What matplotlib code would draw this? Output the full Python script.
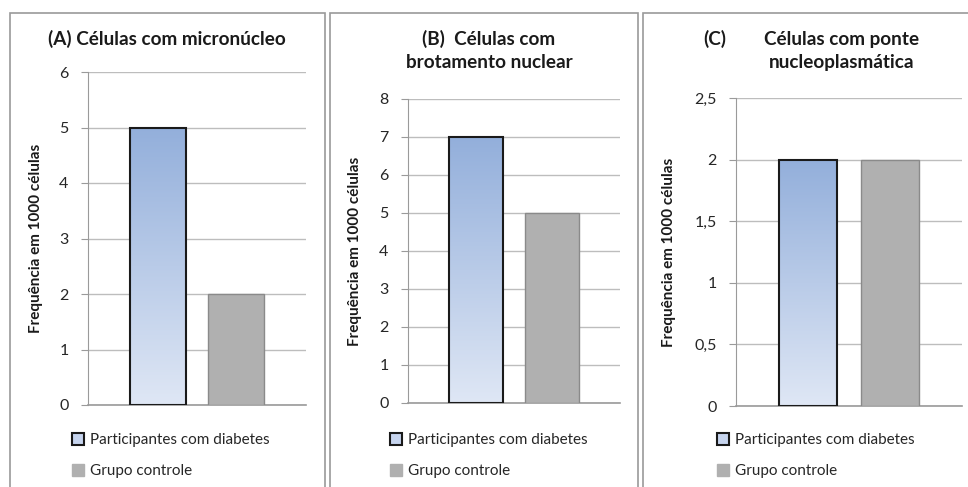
import numpy as np
import matplotlib.pyplot as plt
from matplotlib.patches import Rectangle, Patch
from matplotlib.colors import LinearSegmentedColormap

plt.rcParams['font.family'] = ['Lato', 'DejaVu Sans']

# data
groups = ["Participantes com diabetes", "Grupo controle"]
titles = ["(A) Células com micronúcleo",
          "(B)  Células com\nbrotamento nuclear",
          "Células com ponte\nnucleoplasmática"]
vals_a = [5, 2]
vals_b = [7, 5]
vals_c = [2, 2]
ylims = [6, 8, 2.5]
yticks_a = [0, 1, 2, 3, 4, 5, 6]
yticks_b = [0, 1, 2, 3, 4, 5, 6, 7, 8]
yticks_c = [0, 0.5, 1, 1.5, 2, 2.5]
ylabel = "Frequência em 1000 células"

W, H = 968, 487
fig = plt.figure(figsize=(W / 100, H / 100), dpi=100)
fig.patch.set_facecolor("white")


def px_rect(x0, x1, ytop, ybot):
    return [x0 / W, 1 - ybot / H, (x1 - x0) / W, (ybot - ytop) / H]


# panel frames
for x0, x1 in [(10, 325), (330, 638), (643, 1000)]:
    fig.patches.append(Rectangle((x0 / W, -0.1), (x1 - x0) / W, 1.1 - 13 / H,
                                 transform=fig.transFigure, fill=False,
                                 edgecolor="#9a9a9a", linewidth=1.2))

blue_cmap = LinearSegmentedColormap.from_list("bl", ["#dfe7f5", "#93afdb"])

panels = [
    (px_rect(88, 306, 72, 405), vals_a, yticks_a, ylims[0]),
    (px_rect(408, 620, 99, 403), vals_b, yticks_b, ylims[1]),
    (px_rect(736, 962, 98, 406), vals_c, yticks_c, ylims[2]),
]
label_x = [-0.206, -0.217, -0.265]
legend_x = [72, 390, 717]

for i, (rect, vals, ticks, ymax) in enumerate(panels):
    ax = fig.add_axes(rect)
    xs = [0.5 - 0.18, 0.5 + 0.18]
    bars = ax.bar(xs, vals, width=0.257, color=["none", "#b0b0b0"],
                  edgecolor=["#1a1a1a", "#8a8a8a"], linewidth=[1.5, 1.0], zorder=3)
    # gradient fill for the first bar
    b = bars[0]
    grad = np.linspace(0, 1, 256).reshape(-1, 1)
    im = ax.imshow(grad, cmap=blue_cmap, aspect="auto", origin="lower",
                   extent=[b.get_x(), b.get_x() + b.get_width(), 0, b.get_height()],
                   zorder=2)
    im.set_clip_path(b)
    ax.set_xlim(0, 1)
    ax.set_ylim(0, ymax)
    ax.set_yticks(ticks)
    ax.set_yticklabels([f"{t:g}".replace(".", ",") for t in ticks])
    ax.set_xticks([])
    ax.yaxis.grid(True, color="#bdbdbd", linewidth=1.0, zorder=0)
    ax.set_axisbelow(True)
    for s in ["top", "right"]:
        ax.spines[s].set_visible(False)
    ax.spines["left"].set_color("#9a9a9a")
    ax.spines["bottom"].set_color("#9a9a9a")
    ax.spines["bottom"].set_linewidth(1.2)
    ax.tick_params(axis="y", length=5, color="#9a9a9a", labelsize=11.5,
                   labelcolor="#262626", pad=9)
    ax.set_ylabel(ylabel, fontsize=11, fontweight="bold", color="#1a1a1a")
    ax.yaxis.set_label_coords(label_x[i], 0.5)

    handles = [Patch(facecolor="#c6d4ee", edgecolor="#1a1a1a", linewidth=1.5),
               Patch(facecolor="#b0b0b0", edgecolor="#b0b0b0")]
    fig.legend(handles, groups, loc="upper left",
               bbox_to_anchor=(legend_x[i] / W, 1 - 433 / H),
               frameon=False, fontsize=11, handlelength=0.8, handleheight=0.8,
               handletextpad=0.35, labelspacing=1.1, borderpad=0, borderaxespad=0,
               labelcolor="#262626")

# titles
fig.text(167 / W, 1 - 39 / H, titles[0], ha="center", va="center",
         fontsize=13.6, fontweight="bold", color="#1a1a1a")
fig.text(489 / W, 1 - 50.5 / H, titles[1], ha="center", va="center",
         fontsize=13.6, fontweight="bold", color="#1a1a1a", linespacing=1.4)
fig.text(715 / W, 1 - 39 / H, "(C)", ha="center", va="center",
         fontsize=13.6, fontweight="bold", color="#1a1a1a")
fig.text(842 / W, 1 - 51 / H, titles[2], ha="center", va="center",
         fontsize=13.6, fontweight="bold", color="#1a1a1a", linespacing=1.4)

fig.savefig("out.png", dpi=100)
